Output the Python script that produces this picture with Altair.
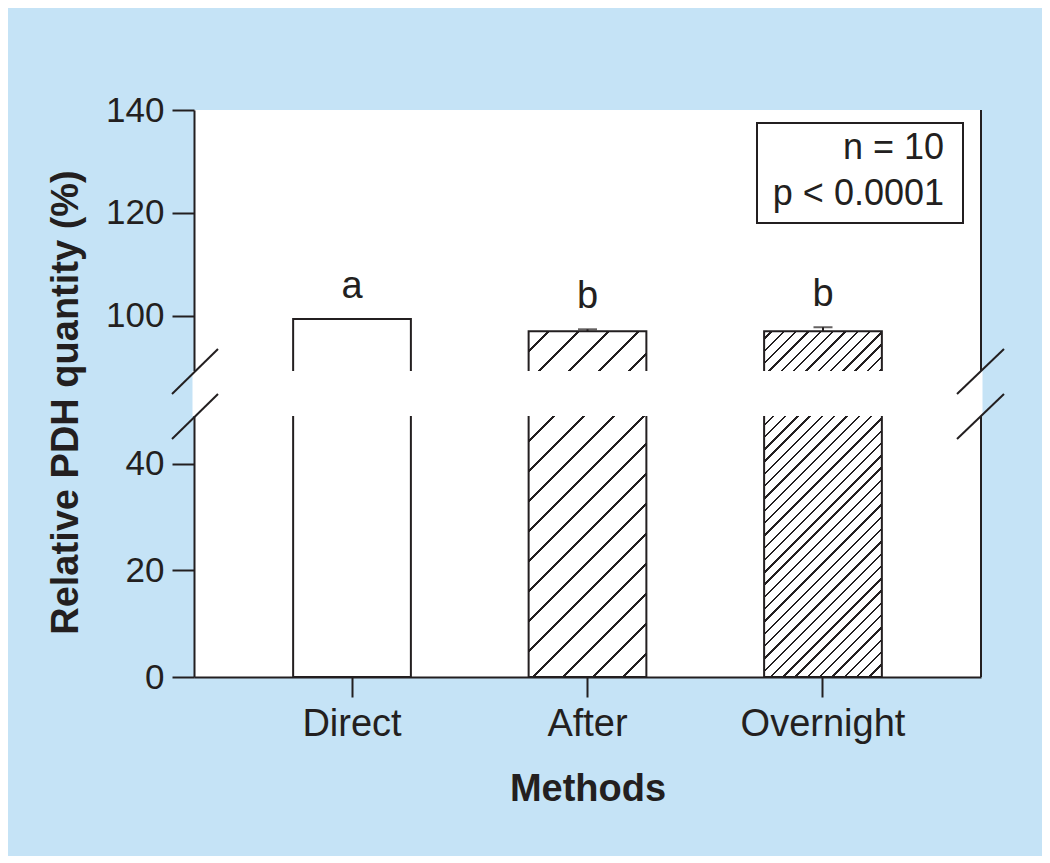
import altair as alt
import numpy as np
import pandas as pd

# ---------------- data ----------------
methods = ["Direct", "After", "Overnight"]
values = [99.4, 97.0, 97.0]          # relative PDH quantity (%)
errors = [0.0, 0.4, 0.8]             # upper error
letters = ["a", "b", "b"]            # significance groups
y_ticks = [0, 20, 40, 100, 120, 140]
annotation = ["n = 10", "p < 0.0001"]
y_title = "Relative PDH quantity (%)"
x_title = "Methods"

# ---------------- style / layout ----------------
W, H = 787, 567
BG = "#c5e3f6"
INK = "#231f20"
FONT = "Liberation Sans"

LOW_TOP = 49.0      # top of lower segment
HIGH_BOT = 89.3     # bottom of upper segment
y_domain = [0, LOW_TOP, HIGH_BOT, 140]
y_range = [H, 306, 261, 0]

PAD_IN, PAD_OUT = 0.5, 0.421
step = W / (len(methods) - PAD_IN + 2 * PAD_OUT)
bar_w = step * (1 - PAD_IN)

df = pd.DataFrame({
    "method": methods,
    "value": values,
    "err": errors,
    "letter": letters,
})
df["top"] = df["value"] + df["err"]

x_scale = alt.Scale(domain=methods, paddingInner=PAD_IN, paddingOuter=PAD_OUT)
y_scale = alt.Scale(domain=y_domain, range=y_range, nice=False, zero=False)

x_axis = alt.Axis(title=x_title, labelAngle=0, tickSize=20, labelPadding=8,
                  labelFontSize=38, titleFontSize=38, titleFontWeight="bold",
                  titleBaseline="alphabetic", titleY=123, titleX=W / 2,
                  titleAlign="center")
y_axis = alt.Axis(title=y_title, values=y_ticks, tickSize=22, labelPadding=8,
                  labelFontSize=35, titleFontSize=38, titleFontWeight="bold",
                  titleAngle=270, titleAlign="center", titleBaseline="alphabetic",
                  titleX=-117, titleY=292, grid=False)

X = alt.X("method:N", scale=x_scale, axis=x_axis, sort=methods)
Y = alt.Y("value:Q", scale=y_scale, axis=y_axis)


def ypix(v):
    return float(np.interp(v, y_domain, y_range))


def hatch(value, spacing, lw, phase):
    w = bar_w
    h = ypix(0) - ypix(value)
    D = w + h
    stops = [alt.GradientStop(offset=0, color="white")]
    c = phase - spacing
    while c < D + spacing:
        a = min(max((c - lw / 2) / D, 0.0), 1.0)
        b = min(max((c + lw / 2) / D, 0.0), 1.0)
        if b > a:
            stops += [alt.GradientStop(offset=a, color="white"),
                      alt.GradientStop(offset=a, color=INK),
                      alt.GradientStop(offset=b, color=INK),
                      alt.GradientStop(offset=b, color="white")]
        c += spacing
    stops.append(alt.GradientStop(offset=1, color="white"))
    k = D / (w * w + h * h)
    return alt.LinearGradient(gradient="linear", stops=stops,
                              x1=0, y1=0, x2=k * w, y2=k * h)


base = alt.Chart(df)

fills = {
    "Direct": "white",
    "After": hatch(values[1], 30.0, 2.6, 20.3),
    "Overnight": hatch(values[2], 12.3, 2.4, 7.7),
}

bar_layers = []
for m in methods:
    bar_layers.append(
        base.transform_filter(alt.datum.method == m)
        .mark_bar(fill=fills[m], stroke=INK, strokeWidth=2)
        .encode(x=X, y=Y, y2=alt.Y2(datum=0))
    )

err_df = base.transform_filter(alt.datum.err > 0)
err_rule = err_df.mark_rule(color=INK, strokeWidth=2).encode(
    x=alt.X("method:N", scale=x_scale, sort=methods),
    y=alt.Y("value:Q", scale=y_scale), y2="top:Q")
err_cap = err_df.mark_tick(color=INK, thickness=2, size=19, orient="horizontal").encode(
    x=alt.X("method:N", scale=x_scale, sort=methods),
    y=alt.Y("top:Q", scale=y_scale))

one = alt.Chart(pd.DataFrame({"k": [0]}))

right_border = one.mark_rule(color=INK, strokeWidth=2).encode(
    x=alt.value(W), y=alt.value(0), y2=alt.value(H))

gap_mask = one.mark_rect(fill="white").encode(
    x=alt.value(-1.5), x2=alt.value(W + 1.5),
    y=alt.datum(LOW_TOP), y2=alt.datum(HIGH_BOT))

break_layers = []
for xa, xb in [(-22, 24), (W - 24, W + 23)]:
    for yv in [HIGH_BOT, LOW_TOP]:
        break_layers.append(
            one.mark_rule(color=INK, strokeWidth=2, yOffset=23, y2Offset=-22)
            .encode(x=alt.value(xa), x2=alt.value(xb),
                    y=alt.datum(yv), y2=alt.datum(yv))
        )

letter_text = base.mark_text(fontSize=38, font=FONT, color=INK, dy=-21,
                             baseline="alphabetic").encode(
    x=alt.X("method:N", scale=x_scale, sort=methods),
    y=alt.Y("top:Q", scale=y_scale), text="letter:N")

box = one.mark_rect(fill="white", stroke=INK, strokeWidth=2).encode(
    x=alt.value(563), x2=alt.value(769), y=alt.value(13), y2=alt.value(113))
ann_layers = [
    one.mark_text(text=annotation[0], fontSize=36, font=FONT, color=INK,
                  align="right", baseline="alphabetic").encode(
        x=alt.value(750), y=alt.value(49)),
    one.mark_text(text=annotation[1], fontSize=36, font=FONT, color=INK,
                  align="right", baseline="alphabetic").encode(
        x=alt.value(750), y=alt.value(95)),
]

chart = alt.layer(
    *bar_layers, err_rule, err_cap, right_border, gap_mask, *break_layers,
    letter_text, box, *ann_layers
).properties(
    width=W, height=H,
    autosize=alt.AutoSizeParams(type="none"),
    padding={"left": 186, "top": 102, "right": 61, "bottom": 179},
    background=BG,
).configure_view(
    fill="white", strokeWidth=0
).configure_axis(
    labelFont=FONT, titleFont=FONT, labelColor=INK, titleColor=INK,
    domainColor=INK, tickColor=INK, domainWidth=2, tickWidth=2, grid=False,
)

chart.save("out.html", embed_options={"renderer": "svg", "actions": False})
